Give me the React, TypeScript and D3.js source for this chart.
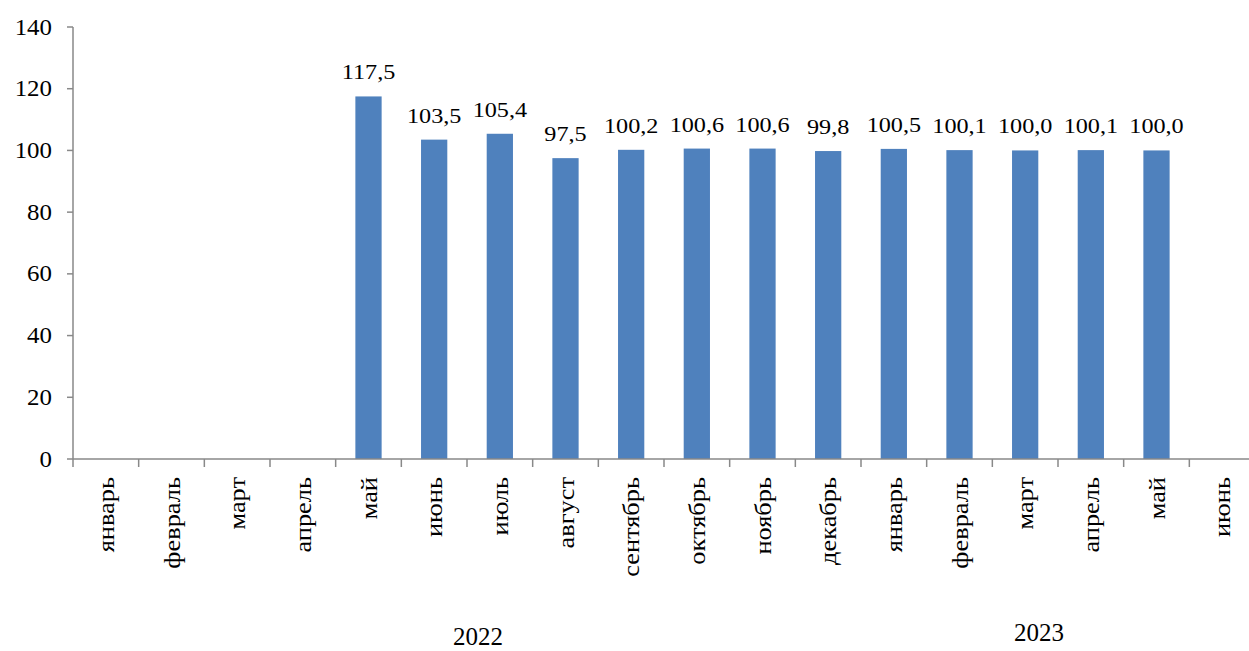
import React from "react";
import * as d3 from "d3";

const months = ["январь","февраль","март","апрель","май","июнь","июль","август","сентябрь","октябрь","ноябрь","декабрь","январь","февраль","март","апрель","май","июнь"];
const values: (number | null)[] = [null,null,null,null,117.5,103.5,105.4,97.5,100.2,100.6,100.6,99.8,100.5,100.1,100.0,100.1,100.0,null];
const years = [{ label: "2022", from: 0, to: 11 }, { label: "2023", from: 12, to: 17 }];
const yTicks = [0,20,40,60,80,100,120,140];

const W = 1249, H = 651;
const left = 73, right = 1255, top = 27, bottom = 459;
const FONT = "'Liberation Serif','Times New Roman',serif";

export default function App() {
  const idx = months.map((_, i) => i);
  const x = d3.scaleBand<number>().domain(idx).range([left, right]).paddingInner(0.6).paddingOuter(0.3);
  const xb = d3.scaleBand<number>().domain(idx).range([left, right]);
  const y = d3.scaleLinear().domain([0, 140]).range([bottom, top]);
  const fmt = (v: number) => v.toFixed(1).replace(".", ",");
  const axisColor = "#898989";
  return (
    <svg width={W} height={H} style={{ position: "absolute", left: 0, top: 0, background: "#fff" }} fontFamily={FONT}>
      {values.map((v, i) => v == null ? null : (
        <rect key={i} x={x(i)} y={y(v)} width={x.bandwidth()} height={y(0) - y(v)} fill="#4F81BD" />
      ))}
      <line x1={left} x2={left} y1={y(140)} y2={y(0)} stroke={axisColor} strokeWidth={1.5} />
      {yTicks.map(t => (
        <g key={t}>
          <line x1={left - 6} x2={left} y1={y(t)} y2={y(t)} stroke={axisColor} strokeWidth={1.5} />
          <g transform={`translate(52,${y(t) + 7.5}) scale(1.06,1)`}>
            <text textAnchor="end" fontSize={23.5} fill="#000">{t}</text>
          </g>
        </g>
      ))}
      <line x1={left} x2={right} y1={y(0)} y2={y(0)} stroke={axisColor} strokeWidth={1.5} />
      {idx.map(i => (
        <line key={i} x1={xb(i)} x2={xb(i)} y1={y(0)} y2={y(0) + 8} stroke={axisColor} strokeWidth={1.5} />
      ))}
      {months.map((m, i) => (
        <g key={i} transform={`translate(${(xb(i) as number) + xb.bandwidth() / 2 + 8},477) rotate(-90) scale(1.1,1)`}>
          <text textAnchor="end" fontSize={24} fill="#000">{m}</text>
        </g>
      ))}
      {values.map((v, i) => v == null ? null : (
        <g key={i} transform={`translate(${(x(i) as number) + x.bandwidth() / 2},${y(v) - 17}) scale(1.1,1)`}>
          <text textAnchor="middle" fontSize={22} fill="#000">{fmt(v)}</text>
        </g>
      ))}
      {years.map((g, k) => {
        const cx = ((xb(g.from) as number) + (xb(g.to) as number) + xb.bandwidth()) / 2;
        const off = k === 0 ? 11 : -19;
        return (
          <text key={g.label} x={cx + off} y={k === 0 ? 645 : 641} textAnchor="middle" fontSize={25} fill="#000">{g.label}</text>
        );
      })}
    </svg>
  );
}
